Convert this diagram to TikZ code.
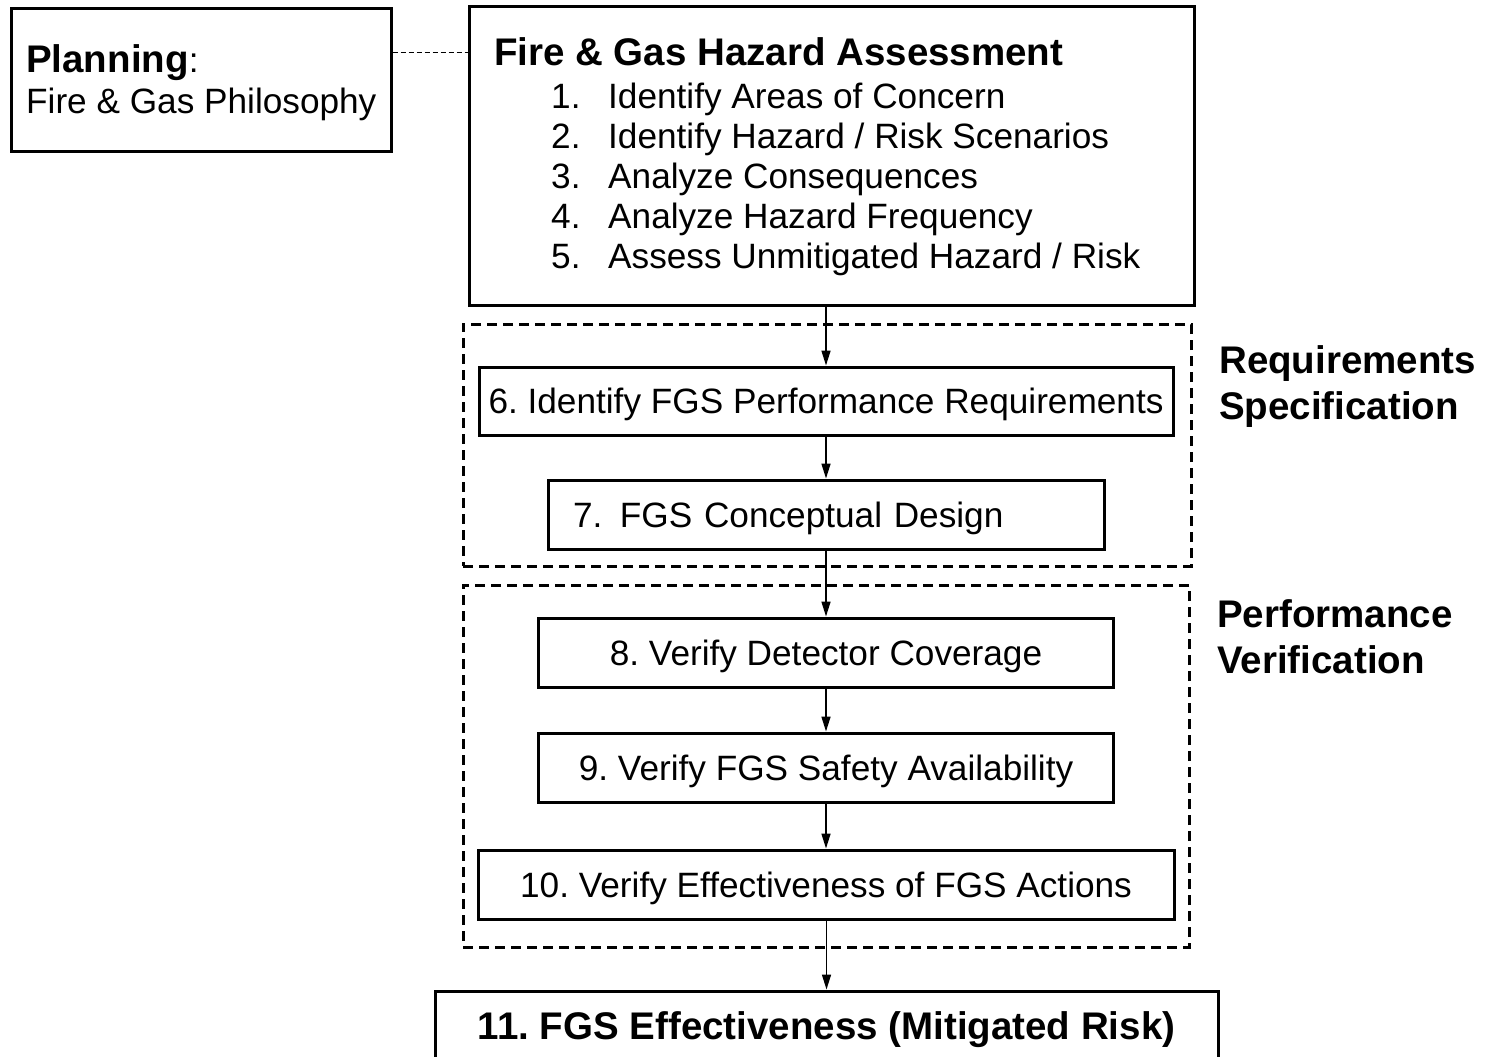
\documentclass[tikz,border=0pt]{standalone}
\usepackage{fontspec}
\setmainfont{Liberation Sans}
\usetikzlibrary{arrows.meta}
\frenchspacing
\begin{document}
\begin{tikzpicture}[x=1pt,y=1pt,
  box/.style={draw=black,line width=3pt,rectangle,inner sep=0pt,text height=25pt,text depth=0pt,font=\fontsize{35.2}{40}\selectfont},
  dbox/.style={draw=black,line width=3pt,dash pattern=on 10pt off 6pt,rectangle,inner sep=0pt},
  reg/.style={inner sep=0pt,font=\fontsize{35.2}{40}\selectfont},
  bld/.style={inner sep=0pt,font=\fontsize{38.5}{44}\selectfont\bfseries},
  arr/.style={line width=1.6pt,-{Triangle[length=15pt,width=9pt]}}]
\useasboundingbox (0,0) rectangle (1488,-1057);
\fill[white] (0,0) rectangle (1488,-1057);

% dashed grouping boxes
\node[dbox,minimum width=728pt,minimum height=242pt] (req) at (827,-445) {};
\node[dbox,minimum width=726pt,minimum height=362pt] (perf) at (826,-766) {};

% planning
\node[box,minimum width=380pt,minimum height=142pt] (plan) at (201,-80) {};
\node[reg,anchor=base west] (plant) at (26,-72) {\fontsize{38.5}{44}\selectfont\bfseries Planning\mdseries\fontsize{35.2}{40}\selectfont:};
\node[reg,anchor=base west] (plans) at (26,-113) {Fire \& Gas Philosophy};

% hazard assessment
\node[box,minimum width=725pt,minimum height=298pt] (haz) at (831.5,-156) {};
\node[bld,anchor=base west] (hazt) at (494,-66) {Fire \& Gas Hazard Assessment};
\foreach \i/\t [count=\k] in {1/{Identify Areas of Concern},2/{Identify Hazard / Risk Scenarios},3/{Analyze Consequences},4/{Analyze Hazard Frequency},5/{Assess Unmitigated Hazard / Risk}}{
  \node[reg,anchor=base west] (n\k) at (551,{-108-40*(\k-1)}) {\i.};
  \node[reg,anchor=base west] (t\k) at (608,{-108-40*(\k-1)}) {\t};
}

\draw[line width=1pt,dash pattern=on 5pt off 3pt] (plan.east |- 0,-53) -- (haz.west |- 0,-53);

% steps
\node[box,minimum width=694pt,minimum height=68pt] (s6) at (826,-401) {6. Identify FGS Performance Requirements};
\node[box,minimum width=556pt,minimum height=69pt,text width=506pt,align=left,inner xsep=25pt] (s7) at (826,-514.5) {7.\hspace{0.5em}FGS Conceptual Design};
\node[box,minimum width=575pt,minimum height=69pt] (s8) at (826,-652.5) {8. Verify Detector Coverage};
\node[box,minimum width=575pt,minimum height=69pt] (s9) at (826,-767.5) {9. Verify FGS Safety Availability};
\node[box,minimum width=696pt,minimum height=69pt] (s10) at (826,-884.5) {10. Verify Effectiveness of FGS Actions};
\node[box,minimum width=783pt,minimum height=80pt] (s11) at (826.5,-1031) {};
\node[bld,anchor=base] (s11t) at (826.5,-1039) {11. FGS Effectiveness (Mitigated Risk)};

% side labels
\node[bld,anchor=base west] (rl1) at (1219,-373) {Requirements};
\node[bld,anchor=base west] (rl2) at (1219,-419) {Specification};
\node[bld,anchor=base west] (pl1) at (1217,-627) {Performance};
\node[bld,anchor=base west] (pl2) at (1217,-673) {Verification};

% arrows
\draw[arr] (haz.south -| s6.north) -- (s6.north);
\draw[arr] (s6.south -| s7.north) -- (s7.north);
\draw[arr] (s7.south -| s8.north) -- (s8.north);
\draw[arr] (s8.south) -- (s9.north);
\draw[arr] (s9.south -| s10.north) -- (s10.north);
\draw[arr] (s10.south -| s11.north) -- (s11.north);
\end{tikzpicture}
\end{document}
